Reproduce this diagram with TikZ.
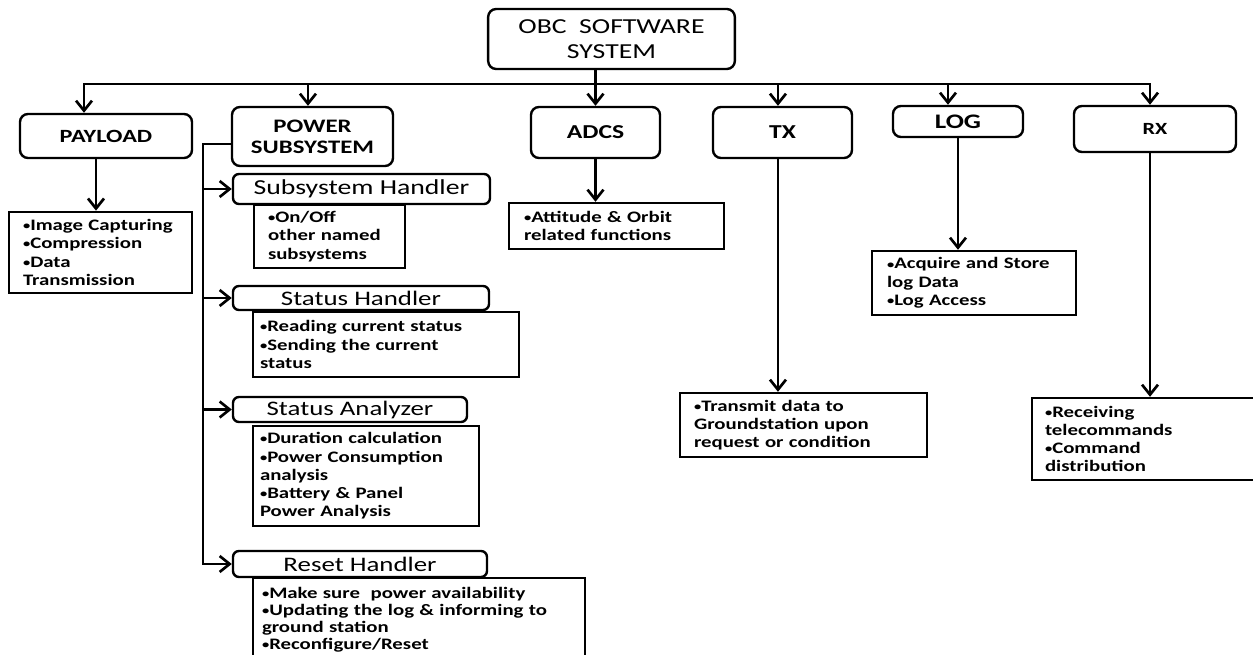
\documentclass[tikz,border=0pt]{standalone}
\usepackage{fontspec}
\setmainfont{Carlito}[FakeStretch=1.3]
\usetikzlibrary{arrows.meta}
\newcommand{\bul}{\raisebox{0.12ex}{\scalebox{0.7}{•}}}
\tikzstyle{head} = [rectangle, draw, line width=1.8pt, rounded corners=6pt, text centered, align=center, inner ysep=1pt]
\tikzstyle{sub} = [rectangle, draw, line width=1.8pt, rounded corners=4.5pt, text centered, inner ysep=0pt, font=\fontsize{15.5}{17}\selectfont]
\tikzstyle{list} = [rectangle, draw, line width=1.8pt, align=left, inner ysep=2pt, font=\bfseries\fontsize{12}{13.7}\selectfont]
\tikzstyle{line} = [draw, line width=2pt, -{Straight Barb[length=7.5pt,width=12pt]}]

\begin{document}
\begin{tikzpicture}[x=0.75pt, y=-0.75pt]
    \useasboundingbox (0,0) rectangle (1253,655);

    % top level
    \node[head, font=\fontsize{16}{18.75}\selectfont, minimum width=185pt, minimum height=45pt](obc) at (611.5,39){OBC\ \ SOFTWARE\\SYSTEM};
    \coordinate (bus) at (0,84);

    \node[head, font=\bfseries\fontsize{14}{16}\selectfont, minimum width=129pt, minimum height=33pt](payload) at (106,136){PAYLOAD};
    \node[head, font=\bfseries\fontsize{14.3}{15.75}\selectfont, minimum width=120.75pt, minimum height=44.25pt](power) at (312.5,136.5){POWER\\SUBSYSTEM};
    \node[head, font=\bfseries\fontsize{14.8}{16}\selectfont, minimum width=96.75pt, minimum height=38.25pt](adcs) at (595.5,132.5){ADCS};
    \node[head, font=\bfseries\fontsize{14.8}{16}\selectfont, minimum width=104.25pt, minimum height=38.25pt](tx) at (782.5,132.5){TX};
    \node[head, font=\bfseries\fontsize{15.5}{17}\selectfont, minimum width=97.5pt, minimum height=23.25pt](log) at (958,121.5){LOG};
    \node[head, font=\bfseries\fontsize{12.8}{15}\selectfont, minimum width=121.5pt, minimum height=34.5pt](rx) at (1155,129){RX};

    % function lists
    \node[list, text width=116.25pt, inner xsep=10.5pt, minimum height=61pt](paylist) at (100.5,252.5){\bul Image Capturing\\\bul Compression\\\bul Data\\Transmission};
    \node[list, text width=138.75pt, inner xsep=11.25pt, minimum height=34.5pt](adcslist) at (616.5,226){\bul Attitude \& Orbit\\related functions};
    \node[list, text width=164.25pt, inner xsep=10.5pt, minimum height=48pt](txlist) at (803.5,425){\bul Transmit data to\\Groundstation upon\\request or condition};
    \node[list, text width=130.5pt, inner xsep=11.25pt, minimum height=48pt](loglist) at (974,283){\bul Acquire and Store\\log Data\\\bul Log Access};
    \node[list, text width=153pt, inner xsep=9.75pt, minimum height=61.5pt](rxlist) at (1147,439){\bul Receiving\\telecommands\\\bul Command\\distribution};

    % power subsystem handlers
    \node[sub, font=\fontsize{16}{18}\selectfont, minimum width=192.75pt, minimum height=22.5pt](sh) at (361.5,189){Subsystem Handler};
    \node[list, text width=92.25pt, inner xsep=10.5pt, minimum height=47.25pt](shlist) at (329.5,236.5){\bul On/Off\\other named\\subsystems};
    \node[sub, minimum width=192pt, minimum height=18pt](sth) at (361,298){Status Handler};
    \node[list, text width=189pt, inner xsep=5.25pt, minimum height=48.75pt](sthlist) at (386,344.5){\bul Reading current status\\\bul Sending the current\\status};
    \node[sub, minimum width=175.5pt, minimum height=18.75pt](sa) at (350,409.5){Status Analyzer};
    \node[list, text width=159pt, inner xsep=5.25pt, minimum height=75pt](salist) at (366,476){\bul Duration calculation\\\bul Power Consumption\\analysis\\\bul Battery \& Panel\\Power Analysis};
    \node[sub, minimum width=190.5pt, minimum height=19.5pt](rh) at (360,564){Reset Handler};
    \node[list, font=\bfseries\fontsize{12}{12.9}\selectfont, anchor=north, text width=235.5pt, inner xsep=6.75pt, inner ysep=6.5pt, text depth=40pt](rhlist) at (419,577){\bul Make sure\ \ power availability\\\bul Updating the log \& informing to\\ground station\\\bul Reconfigure/Reset};

    % connectors from OBC
    \path[line] (adcs.north |- obc.south) -- (adcs.north);
    \path[line] (adcs.north |- bus) -| ([xshift=-16.5pt]payload.north);
    \path[line] (adcs.north |- bus) -| ([xshift=-3.75pt]rx.north);
    \path[line] ([xshift=-3.4pt]power.north |- bus) -- ([xshift=-3.4pt]power.north);
    \path[line] ([xshift=-3.4pt]tx.north |- bus) -- ([xshift=-3.4pt]tx.north);
    \path[line] ([xshift=-7.5pt]log.north |- bus) -- ([xshift=-7.5pt]log.north);

    \path[line] ([xshift=-7.5pt]payload.south) -- ([xshift=-7.5pt]payload.south |- paylist.north);
    \path[line] (adcs.south) -- (adcs.south |- adcslist.north);
    \path[line] ([xshift=-3.4pt]tx.south) -- ([xshift=-3.4pt]tx.south |- txlist.north);
    \path[line] (log.south) -- (log.south |- loglist.north);
    \path[line] ([xshift=-3.75pt]rx.south) -- ([xshift=-3.75pt]rx.south |- rxlist.north);

    % power tree
    \coordinate (ptop) at (203,144);
    \path[line] (ptop -| power.west) -- (ptop) |- (rh.west);
    \path[line] (ptop |- sh.west) -- (sh.west);
    \path[line] (ptop |- sth.west) -- (sth.west);
    \path[line] (ptop |- sa.west) -- (sa.west);
\end{tikzpicture}
\end{document}
